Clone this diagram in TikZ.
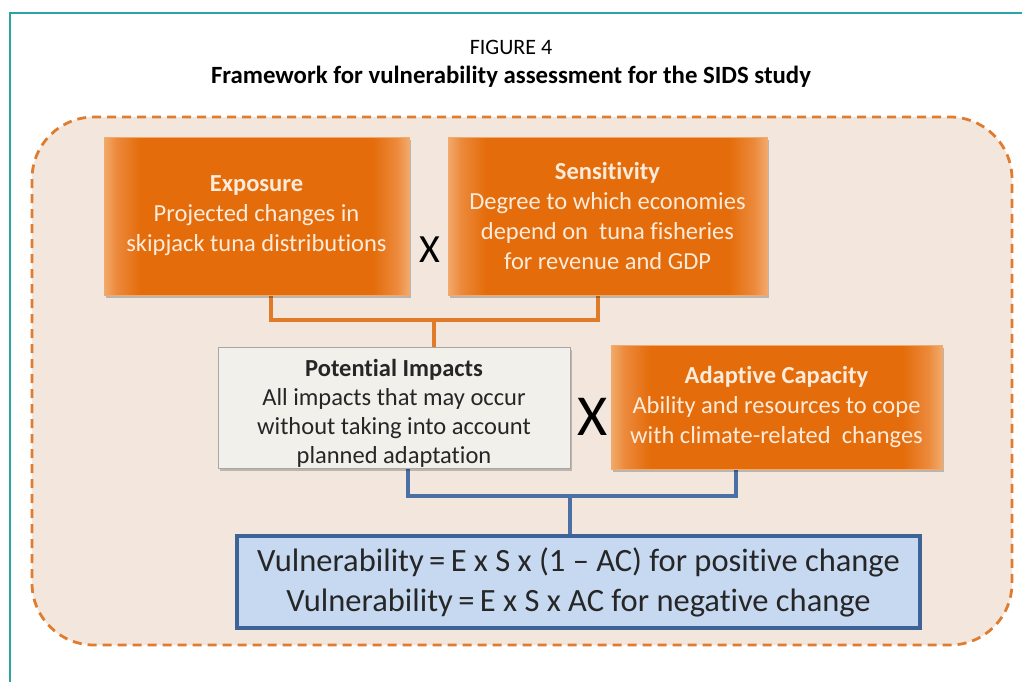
\documentclass[tikz,border=0pt]{standalone}
\usepackage{fontspec}
\setmainfont{Carlito}[Ligatures=NoCommon]
\usetikzlibrary{shadows}
\definecolor{teal}{HTML}{2AA5A5}
\definecolor{peach}{HTML}{F3E7DD}
\definecolor{dashor}{HTML}{E07C30}
\definecolor{oD}{HTML}{E46C0A}
\definecolor{oM}{HTML}{EC8A3C}
\definecolor{oL}{HTML}{F2AA6C}
\definecolor{otext}{HTML}{FDEBDC}
\definecolor{potfill}{HTML}{F2F0EA}
\definecolor{potdraw}{HTML}{A6A6A6}
\definecolor{bfill}{HTML}{C6D9F1}
\definecolor{bdraw}{HTML}{3E6397}
\definecolor{bline}{HTML}{4A70A6}
\definecolor{oline}{HTML}{E07B2A}
\pgfdeclarehorizontalshading{orangeglow}{100bp}{color(0bp)=(oL); color(25bp)=(oL); color(27bp)=(oM); color(31bp)=(oD); color(69bp)=(oD); color(73bp)=(oM); color(75bp)=(oL); color(100bp)=(oL)}
\tikzset{
  shad/.style={drop shadow={shadow xshift=2pt, shadow yshift=-2.5pt, opacity=0.22, fill=black}},
  obox/.style={shad, shading=orangeglow, draw=oL, line width=0.8pt, text=otext, align=center,
    font=\fontsize{24.5pt}{30pt}\selectfont, inner sep=0pt},
  pbox/.style={shad, fill=potfill, draw=potdraw, line width=1pt, text=black!85, align=center,
    font=\fontsize{24.5pt}{29pt}\selectfont, inner sep=0pt},
  vbox/.style={fill=bfill, draw=bdraw, line width=3.5pt, text=black!85, align=center,
    font=\fontsize{32.5pt}{40pt}\selectfont, inner sep=0pt},
  oconn/.style={draw=oline, line width=3.5pt},
  bconn/.style={draw=bline, line width=3.5pt},
  times/.style={text=black, inner sep=0pt}
}
\begin{document}
\begin{tikzpicture}[x=1pt,y=-1pt]
\useasboundingbox (0,0) rectangle (1022,681);
% frame
\draw[teal, line width=1.2pt] (10,690) -- (10,13) -- (1030,13);
% titles
\node[font=\fontsize{22pt}{26pt}\selectfont] (fig) at (511,47) {FIGURE 4};
\node[font=\bfseries\fontsize{24.8pt}{28pt}\selectfont] (title) at (511,77) {Framework for vulnerability assessment for the SIDS study};
% outer dashed region
\draw[dashor, fill=peach, line width=2.8pt, dash pattern=on 9pt off 6pt, rounded corners=62pt] (32,117) rectangle (1012,645);
% orange connectors
\coordinate (j1) at (434,320);
\coordinate (e1) at (271,295);
\coordinate (s1) at (598,295);
\coordinate (p0) at (434,347);
\draw[oconn] (e1) |- (j1) -| (s1);
\draw[oconn] (j1) -- (p0);
% blue connectors
\coordinate (j2) at (570,496);
\coordinate (p1) at (408,468);
\coordinate (a1) at (736,469);
\coordinate (v0) at (570,536);
\draw[bconn] (p1) |- (j2) -| (a1);
\draw[bconn] (j2) -- (v0);
% boxes
\node[obox, minimum width=305pt, minimum height=158pt] (exp) at (256.5,216)
  {\textbf{Exposure}\\Projected changes in\\skipjack tuna distributions};
\node[obox, minimum width=319pt, minimum height=158pt] (sens) at (607.5,216)
  {\textbf{Sensitivity}\\Degree to which economies\\depend on\ \ tuna fisheries\\for revenue and GDP};
\node[times, font=\fontsize{40pt}{40pt}\selectfont] (x1) at (430,250) {X};
\node[pbox, minimum width=352pt, minimum height=121pt] (pot) at (394,408)
  {\rule{0pt}{28pt}\textbf{Potential Impacts}\\All impacts that may occur\\without taking into account\\planned adaptation};
\node[obox, minimum width=331pt, minimum height=124pt] (adap) at (776.5,407)
  {\textbf{Adaptive Capacity}\\Ability and resources to cope\\with climate-related\ \ changes};
\node[times, font=\fontsize{58pt}{58pt}\selectfont] (x2) at (593,417) {X};
\node[vbox, minimum width=683pt, minimum height=92pt] (vul) at (578.5,582)
  {Vulnerability\,=\,E x S x (1 -- AC) for positive change\\Vulnerability\,=\,E x S x AC for negative change};
\end{tikzpicture}
\end{document}
